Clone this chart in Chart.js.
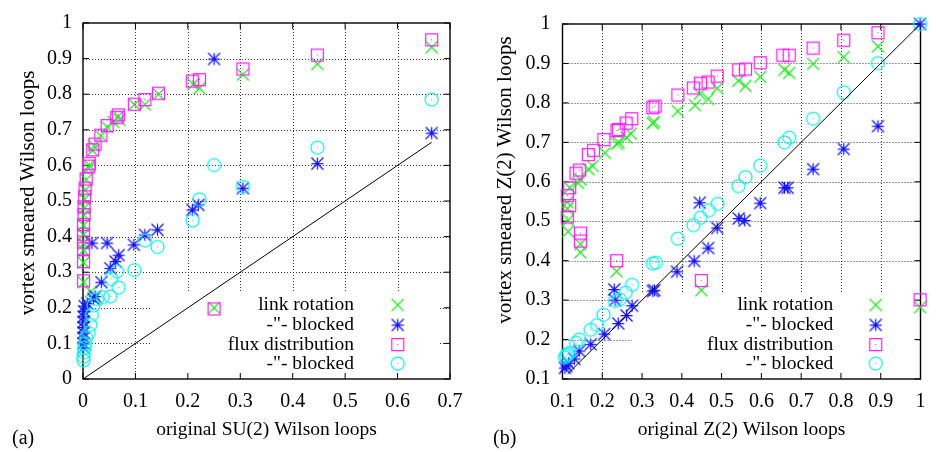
<!DOCTYPE html>
<html>
<head>
<meta charset="utf-8">
<script src="https://cdn.jsdelivr.net/npm/chart.js@4.4.1/dist/chart.umd.min.js"></script>
<style>
  html, body { margin: 0; padding: 0; background: #fff; }
  #wrap { position: relative; width: 936px; height: 452px; overflow: hidden; background: #fff; }
  #wrap canvas { position: absolute; left: 0; top: 0; }
  .tag { position: absolute; font: 20px "Liberation Serif", serif; color: #000; line-height: 20px; white-space: nowrap; }
</style>
</head>
<body>
<div id="wrap">
  <canvas id="panelA" width="936" height="452"></canvas>
  <canvas id="panelB" width="936" height="452"></canvas>
  <div class="tag" style="left:12px; top:427px;">(a)</div>
  <div class="tag" style="left:493px; top:427px;">(b)</div>
</div>
<script>
// ---------- panel (a): SU(2) Wilson loops ----------
const linkRotA = [
  [0.665,0.932],[0.447,0.885],[0.305,0.855],[0.210,0.828],[0.222,0.817],[0.144,0.800],[0.118,0.771],[0.098,0.771],
  [0.067,0.738],[0.058,0.722],[0.070,0.728],[0.046,0.708],[0.034,0.683],[0.021,0.655],[0.018,0.642],[0.012,0.600],
  [0.011,0.592],[0.006,0.560],[0.004,0.530],[0.003,0.505],[0.002,0.480],[0.002,0.460],[0.001,0.432],[0.001,0.405],
  [0.001,0.380],[0.001,0.362],[0.001,0.327],[0.001,0.272],[0.250,0.200],[0.015,0.245]
];
const linkBlockedA = [
  [0.665,0.691],[0.447,0.605],[0.305,0.536],[0.250,0.899],[0.2085,0.475],[0.220,0.489],[0.142,0.419],[0.118,0.405],
  [0.097,0.377],[0.046,0.382],[0.017,0.382],[0.068,0.348],[0.062,0.330],[0.052,0.311],[0.035,0.272],[0.023,0.232],
  [0.020,0.225],[0.008,0.212],[0.003,0.205],[0.002,0.190],[0.001,0.175],[0.001,0.160],[0.001,0.145],[0.001,0.130],
  [0.001,0.115],[0.001,0.100],[0.001,0.088]
];
const fluxA = [
  [0.665,0.953],[0.447,0.910],[0.305,0.871],[0.2085,0.837],[0.222,0.841],[0.144,0.803],[0.118,0.785],[0.098,0.772],
  [0.0674,0.742],[0.0643,0.735],[0.046,0.712],[0.034,0.685],[0.023,0.660],[0.0185,0.644],[0.012,0.606],[0.011,0.598],
  [0.006,0.562],[0.004,0.536],[0.003,0.512],[0.002,0.484],[0.002,0.462],[0.001,0.434],[0.001,0.407],[0.001,0.385],
  [0.001,0.366],[0.001,0.330],[0.001,0.276],[0.250,0.197]
];
const fluxBlockedA = [
  [0.665,0.785],[0.447,0.650],[0.305,0.540],[0.250,0.601],[0.222,0.505],[0.209,0.445],[0.142,0.371],[0.118,0.389],
  [0.098,0.306],[0.065,0.302],[0.054,0.281],[0.068,0.257],[0.052,0.232],[0.0375,0.230],[0.027,0.225],[0.020,0.207],
  [0.017,0.180],[0.014,0.152],[0.011,0.129],[0.006,0.115],[0.004,0.100],[0.003,0.088],[0.002,0.075],[0.001,0.063],
  [0.001,0.052]
];
const diagonalA = [[0, 0], [0.665, 0.665]];
const xTicksA = [0, 0.1, 0.2, 0.3, 0.4, 0.5, 0.6, 0.7];
const xLabelsA = ['0', '0.1', '0.2', '0.3', '0.4', '0.5', '0.6', '0.7'];
const yTicksA = [0, 0.1, 0.2, 0.3, 0.4, 0.5, 0.6, 0.7, 0.8, 0.9, 1];
const yLabelsA = ['0', '0.1', '0.2', '0.3', '0.4', '0.5', '0.6', '0.7', '0.8', '0.9', '1'];

// ---------- panel (b): Z(2) Wilson loops ----------
const linkRotB = [
  [0.999,0.282],[0.893,0.943],[0.807,0.916],[0.730,0.899],[0.670,0.876],[0.658,0.884],[0.597,0.866],[0.560,0.843],
  [0.542,0.856],[0.489,0.837],[0.466,0.810],[0.445,0.823],[0.433,0.794],[0.449,0.325],[0.390,0.779],[0.330,0.752],
  [0.327,0.748],[0.272,0.722],[0.261,0.712],[0.241,0.700],[0.237,0.696],[0.236,0.373],[0.207,0.673],[0.176,0.640],
  [0.165,0.632],[0.145,0.606],[0.139,0.597],[0.145,0.442],[0.145,0.421],[0.118,0.585],[0.112,0.548],[0.112,0.532],
  [0.114,0.503],[0.114,0.474]
];
const linkBlockedB = [
  [0.999,1.000],[0.893,0.741],[0.807,0.683],[0.730,0.632],[0.666,0.585],[0.658,0.585],[0.597,0.546],[0.558,0.502],
  [0.543,0.507],[0.489,0.483],[0.466,0.432],[0.445,0.547],[0.431,0.399],[0.388,0.372],[0.331,0.325],[0.327,0.323],
  [0.275,0.286],[0.261,0.261],[0.240,0.241],[0.230,0.327],[0.232,0.300],[0.205,0.214],[0.171,0.188],[0.142,0.171],
  [0.130,0.151],[0.115,0.140],[0.110,0.133],[0.106,0.128]
];
const fluxB = [
  [0.999,0.301],[0.893,0.978],[0.807,0.959],[0.730,0.939],[0.670,0.921],[0.654,0.921],[0.597,0.902],[0.560,0.886],
  [0.543,0.884],[0.489,0.868],[0.466,0.853],[0.447,0.850],[0.429,0.838],[0.449,0.350],[0.390,0.820],[0.333,0.792],
  [0.327,0.788],[0.274,0.760],[0.260,0.749],[0.241,0.733],[0.237,0.730],[0.236,0.400],[0.204,0.707],[0.178,0.680],
  [0.165,0.669],[0.143,0.630],[0.134,0.622],[0.145,0.470],[0.145,0.450],[0.118,0.585],[0.112,0.565],[0.118,0.540],
  [0.112,0.511]
];
const fluxBlockedB = [
  [0.999,1.000],[0.893,0.901],[0.807,0.827],[0.730,0.760],[0.670,0.712],[0.658,0.700],[0.597,0.641],[0.560,0.612],
  [0.542,0.589],[0.490,0.544],[0.468,0.528],[0.447,0.509],[0.429,0.490],[0.390,0.456],[0.335,0.395],[0.327,0.393],
  [0.275,0.339],[0.259,0.319],[0.244,0.302],[0.232,0.298],[0.203,0.263],[0.187,0.237],[0.171,0.225],[0.142,0.200],
  [0.134,0.192],[0.117,0.166],[0.113,0.163],[0.109,0.159],[0.106,0.155]
];
const diagonalB = [[0.113, 0.113], [1, 1]];
const xTicksB = [0.1, 0.2, 0.3, 0.4, 0.5, 0.6, 0.7, 0.8, 0.9, 1];
const xLabelsB = ['0.1', '0.2', '0.3', '0.4', '0.5', '0.6', '0.7', '0.8', '0.9', '1'];
const yTicksB = [0.1, 0.2, 0.3, 0.4, 0.5, 0.6, 0.7, 0.8, 0.9, 1];
const yLabelsB = ['0.1', '0.2', '0.3', '0.4', '0.5', '0.6', '0.7', '0.8', '0.9', '1'];

const seriesNames = ['link rotation', '-"- blocked', 'flux distribution', '-"- blocked'];

// ---------- marker glyphs ----------
const SERIF = '"Liberation Serif", "Times New Roman", serif';
const COLORS = { green: '#22e622', blue: '#1414ff', magenta: '#ff22ff', cyan: '#14eeee' };

function glyph(kind, color) {
  const c = document.createElement('canvas');
  c.width = 17; c.height = 17;
  const g = c.getContext('2d');
  const m = 8.5, h = 6;
  g.strokeStyle = color; g.fillStyle = color; g.lineWidth = 1.25;
  g.beginPath();
  if (kind === 'x' || kind === 'star') {
    g.moveTo(m - h, m - h); g.lineTo(m + h, m + h);
    g.moveTo(m + h, m - h); g.lineTo(m - h, m + h);
  }
  if (kind === 'star') {
    g.moveTo(m, m - h); g.lineTo(m, m + h);
    g.moveTo(m - h, m); g.lineTo(m + h, m);
  }
  if (kind === 'box') g.rect(m - h, m - h, 2 * h, 2 * h);
  if (kind === 'circle') g.arc(m, m, 6.5, 0, Math.PI * 2);
  g.stroke();
  if (kind === 'box' || kind === 'circle') g.fillRect(8, 8, 1, 1);
  return c;
}
const glyphs = [
  glyph('x', COLORS.green),
  glyph('star', COLORS.blue),
  glyph('box', COLORS.magenta),
  glyph('circle', COLORS.cyan)
];

// ---------- frame: dotted grid (kept clear of the key), border, inward mirrored ticks, key, y title ----------
const gnuFrame = {
  id: 'gnuFrame',
  beforeDatasetsDraw(chart, args, o) {
    const { ctx, chartArea: a, scales: { x, y } } = chart;
    ctx.save();
    ctx.beginPath();
    ctx.rect(a.left, a.top, a.width, a.height);
    ctx.rect(o.key.left, o.key.top, o.key.right - o.key.left, o.key.bottom - o.key.top);
    ctx.clip('evenodd');
    ctx.strokeStyle = '#3a3a3a';
    ctx.lineWidth = 1;
    ctx.setLineDash([1, 2]);
    ctx.beginPath();
    x.ticks.forEach(t => {
      if (t.value > x.min + 1e-9 && t.value < x.max - 1e-9) {
        const p = Math.round(x.getPixelForValue(t.value)) + 0.5;
        ctx.moveTo(p, a.top); ctx.lineTo(p, a.bottom);
      }
    });
    y.ticks.forEach(t => {
      if (t.value > y.min + 1e-9 && t.value < y.max - 1e-9) {
        const p = Math.round(y.getPixelForValue(t.value)) + 0.5;
        ctx.moveTo(a.left, p); ctx.lineTo(a.right, p);
      }
    });
    ctx.stroke();
    ctx.restore();

    ctx.save();
    ctx.strokeStyle = '#000';
    ctx.lineWidth = 1.4;
    ctx.strokeRect(a.left, a.top, a.width, a.height);
    ctx.lineWidth = 1;
    const L = 6;
    ctx.beginPath();
    x.ticks.forEach(t => {
      const p = x.getPixelForValue(t.value);
      ctx.moveTo(p, a.bottom); ctx.lineTo(p, a.bottom - L);
      ctx.moveTo(p, a.top); ctx.lineTo(p, a.top + L);
    });
    y.ticks.forEach(t => {
      const p = y.getPixelForValue(t.value);
      ctx.moveTo(a.left, p); ctx.lineTo(a.left + L, p);
      ctx.moveTo(a.right, p); ctx.lineTo(a.right - L, p);
    });
    ctx.stroke();
    ctx.restore();
  },
  afterDatasetsDraw(chart, args, o) {
    const { ctx } = chart;
    ctx.save();
    ctx.font = '19.5px ' + SERIF;
    ctx.fillStyle = '#000';
    ctx.textAlign = 'right';
    ctx.textBaseline = 'middle';
    seriesNames.forEach((name, i) => {
      const yy = o.rows[i];
      ctx.fillText(name, o.textRight, yy);
      ctx.drawImage(glyphs[i], o.symbolX - 8.5, yy - 8.5);
    });
    ctx.restore();

    // rotated y-axis title
    ctx.save();
    ctx.translate(o.yTitleX, o.yTitleY);
    ctx.rotate(-Math.PI / 2);
    ctx.font = '21px ' + SERIF;
    ctx.fillStyle = '#000';
    ctx.textAlign = 'center';
    ctx.textBaseline = 'middle';
    ctx.fillText(o.yTitle, 0, 0);
    ctx.restore();
  }
};

function pts(arr) { return arr.map(([x, y]) => ({ x, y })); }

function buildPanel(id, p) {
  const tickFont = { family: SERIF, size: 20 };
  const titleFont = { family: SERIF, size: 19.5 };
  const sets = [p.link, p.linkBlocked, p.flux, p.fluxBlocked];
  const datasets = sets.map((s, i) => ({
    label: seriesNames[i],
    data: pts(s),
    pointStyle: glyphs[i],
    pointRadius: 6,
    pointHoverRadius: 6,
    showLine: false,
    clip: false,
    order: 4 - i
  }));
  datasets.push({
    label: 'y = x',
    type: 'line',
    data: pts(p.diagonal),
    borderColor: '#000',
    borderWidth: 1,
    pointRadius: 0,
    fill: false,
    clip: false,
    order: 0
  });
  return new Chart(document.getElementById(id), {
    type: 'scatter',
    data: { datasets },
    options: {
      responsive: false,
      animation: false,
      devicePixelRatio: 1,
      events: [],
      layout: { padding: p.padding },
      plugins: {
        legend: { display: false },
        tooltip: { enabled: false },
        gnuFrame: {
          key: p.key, rows: [305, 325, 344.5, 363.5], textRight: p.keyTextRight, symbolX: p.keySymbolX,
          yTitle: p.yTitle, yTitleX: p.yTitleX, yTitleY: p.yTitleY
        }
      },
      scales: {
        x: {
          type: 'linear',
          min: p.xTicks[0], max: p.xTicks[p.xTicks.length - 1],
          afterBuildTicks: s => { s.ticks = p.xTicks.map(v => ({ value: v })); },
          afterFit: s => { s.height = 73; },
          grid: { display: false, drawTicks: false },
          border: { display: false },
          ticks: { autoSkip: false, maxRotation: 0, padding: 10.5, font: tickFont, color: '#000',
                   callback: (v, i) => p.xLabels[i] },
          title: { display: true, text: p.xTitle, font: titleFont, color: '#000', padding: { top: 0, bottom: 10.5 } }
        },
        y: {
          type: 'linear',
          min: p.yTicks[0], max: p.yTicks[p.yTicks.length - 1],
          afterBuildTicks: s => { s.ticks = p.yTicks.map(v => ({ value: v })); },
          afterFit: s => { s.width = p.yWidth; },
          grid: { display: false, drawTicks: false },
          border: { display: false },
          ticks: { autoSkip: false, padding: p.yPad, font: tickFont, color: '#000',
                   callback: (v, i) => p.yLabels[i] },
          title: { display: false, text: p.yTitle }
        }
      }
    },
    plugins: [gnuFrame]
  });
}

buildPanel('panelA', {
  link: linkRotA, linkBlocked: linkBlockedA, flux: fluxA, fluxBlocked: fluxBlockedA, diagonal: diagonalA,
  xTicks: xTicksA, xLabels: xLabelsA, yTicks: yTicksA, yLabels: yLabelsA,
  xTitle: 'original SU(2) Wilson loops', yTitle: 'vortex smeared Wilson loops',
  padding: { left: 0, top: 13, right: 486, bottom: 0 },
  yWidth: 83, yPad: 11,
  yTitleX: 28, yTitleY: 193,
  key: { left: 152, right: 438, top: 293, bottom: 379 },
  keyTextRight: 354, keySymbolX: 397.7
});

buildPanel('panelB', {
  link: linkRotB, linkBlocked: linkBlockedB, flux: fluxB, fluxBlocked: fluxBlockedB, diagonal: diagonalB,
  xTicks: xTicksB, xLabels: xLabelsB, yTicks: yTicksB, yLabels: yLabelsB,
  xTitle: 'original Z(2) Wilson loops', yTitle: 'vortex smeared Z(2) Wilson loops',
  padding: { left: 468, top: 13, right: 6.5, bottom: 0 },
  yWidth: 94.5, yPad: 12,
  yTitleX: 505, yTitleY: 180,
  key: { left: 632, right: 917, top: 293, bottom: 379 },
  keyTextRight: 833.3, keySymbolX: 875.7
});
</script>
</body>
</html>
